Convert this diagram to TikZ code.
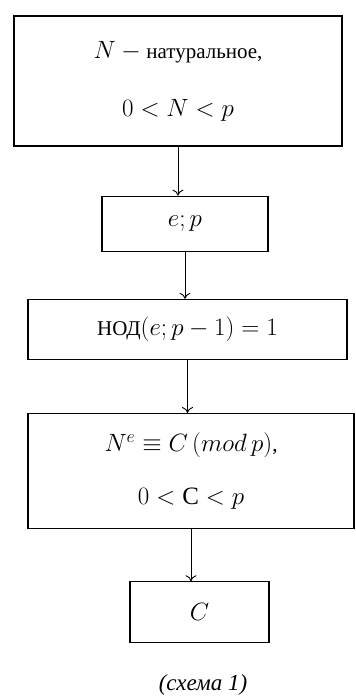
\documentclass[tikz,border=0pt]{standalone}
\usepackage{fix-cm}
\usepackage{fontspec}
\setmainfont{Liberation Serif}
\DeclareMathSizes{21}{25}{18}{14}
\usetikzlibrary{arrows.meta,positioning}

\begin{document}
\begin{tikzpicture}[
    x=1pt, y=1pt,
    block/.style={rectangle, draw, line width=1.2pt, inner sep=0pt, align=center, font=\fontsize{21}{25}\selectfont},
    arrow/.style={-{To[length=6pt, width=11pt]}, line width=0.9pt}
  ]
    \useasboundingbox (0,0) rectangle (356,-699);

    \node[block, minimum width=328pt, minimum height=130pt] (input) at (178,-81) {$N-{}$натуральное,\\[33pt] $0<N<p$};
    \node[block, minimum width=166pt, minimum height=55pt, below=49pt of input, xshift=7pt] (key) {$e;p$};
    \node[block, minimum width=319pt, minimum height=60pt, below=47pt of key, xshift=2.5pt] (gcd) {НОД$(e;p-1)=1$};
    \node[block, minimum width=326pt, minimum height=115pt, below=53pt of gcd, xshift=3.5pt] (cipher) {$N^e\equiv C\,(mod\,p)$,\\[28pt] $0<\mathrm{C}<p$};
    \node[block, minimum width=139pt, minimum height=61pt, below=52pt of cipher, xshift=8.5pt] (result) {$C$};
    \node[font=\fontsize{23}{27}\selectfont\itshape, below=28pt of result, xshift=3.5pt] (caption) {(схема 1)};

    \draw[arrow] (input.south) -- (input.south |- key.north);
    \draw[arrow] (key.south) -- (key.south |- gcd.north);
    \draw[arrow] (gcd.south) -- (gcd.south |- cipher.north);
    \draw[arrow] (cipher.south) -- (cipher.south |- result.north);
\end{tikzpicture}
\end{document}
